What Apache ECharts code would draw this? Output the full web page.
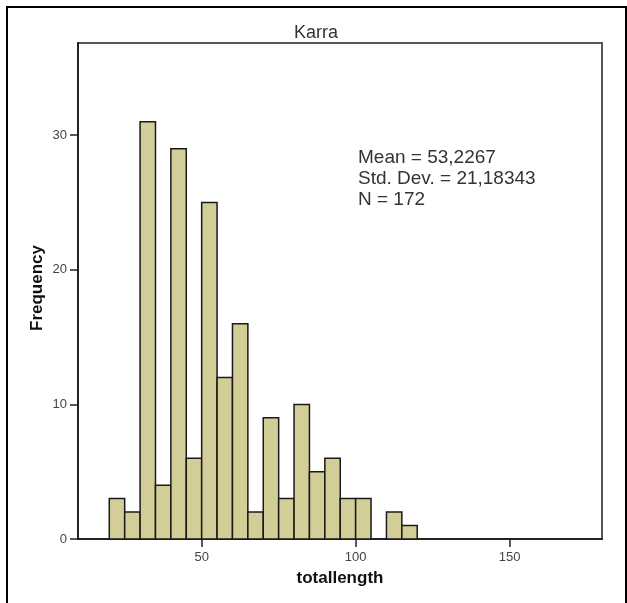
<!DOCTYPE html>
<html>
<head>
<meta charset="utf-8">
<script src="https://cdn.jsdelivr.net/npm/echarts@6/dist/echarts.min.js"></script>
<style>
  html, body { margin: 0; padding: 0; background: #fff; }
  #chart { width: 627px; height: 603px; }
</style>
</head>
<body>
<div id="chart"></div>
<script>
// Histogram of totallength for the Karra group
const chartTitle = 'Karra';
const binStarts = [20, 25, 30, 35, 40, 45, 50, 55, 60, 65, 70, 75, 80, 85, 90, 95, 100, 105, 110, 115];
const binWidth = 5;
const frequencies = [3, 2, 31, 4, 29, 6, 25, 12, 16, 2, 9, 3, 10, 5, 6, 3, 3, 0, 2, 1];
const xTickValues = [50, 100, 150];
const yTickValues = [0, 10, 20, 30];
const statsLines = ['Mean = 53,2267', 'Std. Dev. = 21,18343', 'N = 172'];
const xAxisTitle = 'totallength';
const yAxisTitle = 'Frequency';

const barData = binStarts.map((s, i) => [s, s + binWidth, frequencies[i]]);

const chart = echarts.init(document.getElementById('chart'), null, { renderer: 'canvas' });
const fontFamily = 'Liberation Sans, Arial, sans-serif';
const labelFont = { fontFamily: fontFamily, fontSize: 13, color: '#444' };

chart.setOption({
  animation: false,
  backgroundColor: '#fff',
  grid: {
    left: 78, top: 43, right: 25, bottom: 64,
    show: true, borderColor: '#555', borderWidth: 2, backgroundColor: 'transparent'
  },
  xAxis: {
    type: 'value', min: 9.84, max: 180,
    axisLine: { show: true, onZero: false, lineStyle: { color: '#222', width: 2 } },
    axisTick: { show: true, inside: false, length: 8, customValues: xTickValues, lineStyle: { color: '#222', width: 1.5 } },
    axisLabel: Object.assign({ customValues: xTickValues, margin: 12 }, labelFont),
    splitLine: { show: false }
  },
  yAxis: {
    type: 'value', min: 0, max: 36.85,
    axisLine: { show: true, lineStyle: { color: '#222', width: 2 } },
    axisTick: { show: true, inside: false, length: 8, customValues: yTickValues, lineStyle: { color: '#222', width: 1.5 } },
    axisLabel: Object.assign({ customValues: yTickValues, margin: 11 }, labelFont),
    splitLine: { show: false }
  },
  series: [{
    type: 'custom',
    data: barData,
    encode: { x: [0, 1], y: 2 },
    renderItem: function (params, api) {
      const h = api.value(2);
      if (!h) return null;
      const topLeft = api.coord([api.value(0), h]);
      const bottomRight = api.coord([api.value(1), 0]);
      return {
        type: 'rect',
        shape: {
          x: topLeft[0], y: topLeft[1],
          width: bottomRight[0] - topLeft[0],
          height: bottomRight[1] - topLeft[1]
        },
        style: { fill: '#d3ce98', stroke: '#1a1a1a', lineWidth: 1.5 }
      };
    }
  }],
  graphic: [
    {
      type: 'polyline', silent: true,
      shape: { points: [[7, 603], [7, 7], [626, 7], [626, 603]] },
      style: { stroke: '#000', lineWidth: 2, fill: null }
    },
    {
      type: 'text', x: 316, y: 33,
      style: { text: chartTitle, fontFamily: fontFamily, fontSize: 18, fill: '#333', align: 'center', verticalAlign: 'middle' }
    },
    {
      type: 'text', x: 358, y: 147,
      style: {
        text: statsLines.join('\n'), fontFamily: fontFamily,
        fontSize: 19, lineHeight: 21, fill: '#333'
      }
    },
    {
      type: 'text', x: 340, y: 578,
      style: {
        text: xAxisTitle, fontFamily: fontFamily, fontWeight: 'bold',
        fontSize: 17, fill: '#111', align: 'center', verticalAlign: 'middle'
      }
    },
    {
      type: 'text', x: 37, y: 288, rotation: Math.PI / 2,
      style: {
        text: yAxisTitle, fontFamily: fontFamily, fontWeight: 'bold',
        fontSize: 17, fill: '#111', align: 'center', verticalAlign: 'middle'
      }
    }
  ]
});
</script>
</body>
</html>
